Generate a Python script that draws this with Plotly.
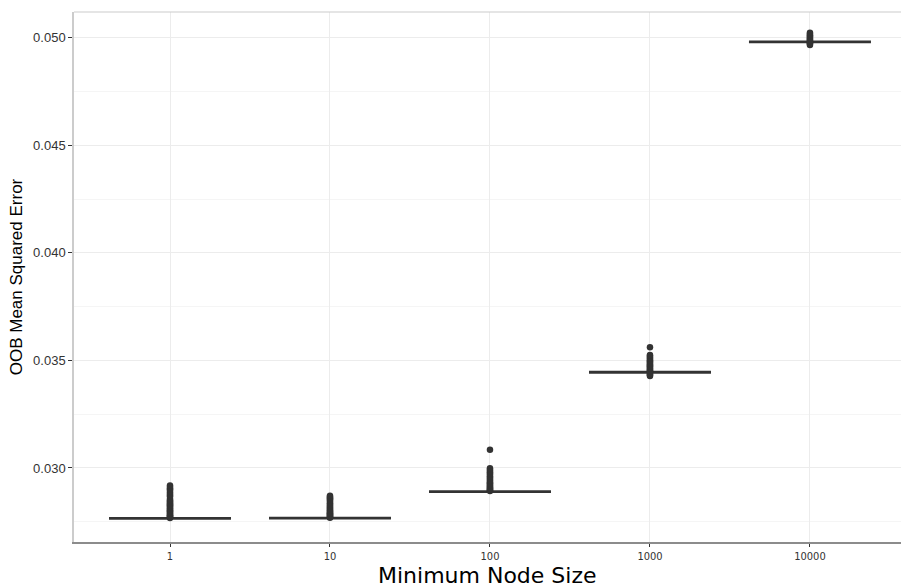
import plotly.graph_objects as go

# ---- data ----
categories = ["1", "10", "100", "1000", "10000"]
medians = [0.02766, 0.02767, 0.02890, 0.03445, 0.04980]
q1_vals = [0.02764, 0.02765, 0.02888, 0.03443, 0.04978]
q3_vals = [0.02768, 0.02769, 0.02892, 0.03447, 0.04982]
lower_fences = [0.02764, 0.02765, 0.02888, 0.03443, 0.04978]
upper_fences = [0.02768, 0.02769, 0.02892, 0.03447, 0.04982]

outliers_1 = [0.02768, 0.02771, 0.02774, 0.02777, 0.02780, 0.02783, 0.02787, 0.02791,
              0.02795, 0.02799, 0.02803, 0.02807, 0.02811, 0.02815, 0.02819, 0.02823,
              0.02827, 0.02831, 0.02835, 0.02840, 0.02845, 0.02850, 0.02856, 0.02866,
              0.02872, 0.02879, 0.02885, 0.02893, 0.02900, 0.02905, 0.02912, 0.02918]
outliers_10 = [0.02769, 0.02772, 0.02775, 0.02778, 0.02781, 0.02784, 0.02787, 0.02790,
               0.02794, 0.02798, 0.02802, 0.02806, 0.02810, 0.02815, 0.02820, 0.02825,
               0.02830, 0.02836, 0.02842, 0.02848, 0.02853, 0.02858, 0.02862, 0.02866,
               0.02871]
outliers_100 = [0.02893, 0.02896, 0.02899, 0.02902, 0.02905, 0.02909, 0.02913, 0.02917,
                0.02921, 0.02925, 0.02929, 0.02934, 0.02939, 0.02944, 0.02950, 0.02956,
                0.02962, 0.02968, 0.02974, 0.02980, 0.02986, 0.02992, 0.02999, 0.03085]
outliers_1000 = [0.03427, 0.03431, 0.03435, 0.03439, 0.03449, 0.03453, 0.03457, 0.03461,
                 0.03465, 0.03469, 0.03473, 0.03477, 0.03481, 0.03486, 0.03491, 0.03496,
                 0.03501, 0.03506, 0.03511, 0.03516, 0.03521, 0.03525, 0.03561]
outliers_10000 = [0.04966, 0.04970, 0.04974, 0.04977, 0.04983, 0.04987, 0.04991, 0.04996,
                  0.05001, 0.05006, 0.05011, 0.05017, 0.05022]

y_ticks = [0.030, 0.035, 0.040, 0.045, 0.050]
y_tick_labels = ["0.030", "0.035", "0.040", "0.045", "0.050"]
x_title = "Minimum Node Size"
y_title = "OOB Mean Squared Error"

outlier_groups = [outliers_1, outliers_10, outliers_100, outliers_1000, outliers_10000]
out_x = []
out_y = []
for cat, vals in zip(categories, outlier_groups):
    out_x += [cat] * len(vals)
    out_y += vals

DARK = "#333333"

fig = go.Figure()
fig.add_trace(go.Box(
    x=categories, q1=q1_vals, median=medians, q3=q3_vals,
    lowerfence=lower_fences, upperfence=upper_fences,
    width=0.75, fillcolor="white", line=dict(color=DARK, width=2),
    boxpoints=False, showlegend=False, hoverinfo="skip",
))
fig.add_trace(go.Scatter(
    x=out_x, y=out_y, mode="markers",
    marker=dict(color=DARK, size=6.5, line=dict(width=0)),
    showlegend=False, hoverinfo="skip",
))

fig.update_layout(
    width=901, height=587,
    margin=dict(l=74, r=0, t=12, b=45),
    paper_bgcolor="white", plot_bgcolor="white",
    font=dict(family="Liberation Sans, Arial, sans-serif", color=DARK),
    shapes=[dict(type="line", xref="paper", yref="paper", x0=0, x1=1, y0=1, y1=1,
                 line=dict(color="#cccccc", width=1.2))],
    annotations=[dict(text=x_title, xref="paper", yref="paper", x=0.5, y=0,
                      xanchor="center", yanchor="top", yshift=-20, showarrow=False,
                      borderpad=0,
                      font=dict(family="DejaVu Sans, sans-serif", size=22, color="black"))],
)
fig.update_xaxes(
    type="category", categoryorder="array", categoryarray=categories,
    range=[-0.6, 4.569],
    showgrid=True, gridcolor="#ececec", gridwidth=1,
    showline=True, linecolor="#8c8c8c", linewidth=1.5,
    ticks="outside", ticklen=3, tickcolor=DARK, tickwidth=1,
    tickfont=dict(family="Liberation Sans Narrow, DejaVu Sans Condensed, Arial Narrow, sans-serif",
                  size=11, color=DARK),
    zeroline=False,
)
fig.update_yaxes(
    range=[0.02656, 0.05119],
    tickmode="array", tickvals=y_ticks, ticktext=y_tick_labels,
    showgrid=True, gridcolor="#ececec", gridwidth=1,
    minor=dict(tickmode="array", tickvals=[0.0275, 0.0325, 0.0375, 0.0425, 0.0475],
               showgrid=True, gridcolor="#f5f5f5", gridwidth=1, ticks=""),
    showline=True, linecolor="#cccccc", linewidth=1.5,
    ticks="outside", ticklen=4, tickcolor=DARK, tickwidth=1,
    tickfont=dict(family="Liberation Sans, Arial, sans-serif", size=13, color=DARK),
    title=dict(text=y_title, standoff=6,
               font=dict(family="Liberation Sans, Arial, sans-serif", size=17, color="black")),
    zeroline=False,
)

fig.write_html("out.html")
